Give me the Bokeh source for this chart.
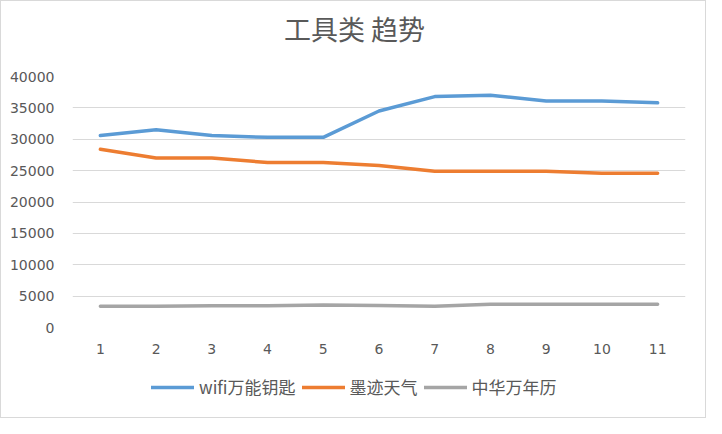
from bokeh.plotting import figure
from bokeh.layouts import column
from bokeh.models import Range1d, FixedTicker, Legend, LegendItem, Label
from bokeh.embed import file_html
from bokeh.resources import INLINE

# ---- data ----
months = [1, 2, 3, 4, 5, 6, 7, 8, 9, 10, 11]
wifi = [30600, 31500, 30600, 30300, 30300, 34500, 36800, 37000, 36100, 36100, 35800]
moji = [28400, 27000, 27000, 26300, 26300, 25800, 24900, 24900, 24900, 24600, 24600]
zhonghua = [3400, 3400, 3450, 3450, 3600, 3500, 3400, 3700, 3700, 3700, 3700]
series_names = ["wifi万能钥匙", "墨迹天气", "中华万年历"]
y_ticks = [0, 5000, 10000, 15000, 20000, 25000, 30000, 35000, 40000]
title_text = "工具类 趋势"

colors = ["#5B9BD5", "#ED7D31", "#A5A5A5"]
text_color = "#595959"
grid_color = "#D9D9D9"
series = [wifi, moji, zhonghua]

W = 704

def strip(h):
    f = figure(width=W, height=h, output_backend="svg", toolbar_location=None,
               x_range=Range1d(0, 1), y_range=Range1d(0, 1),
               x_axis_location=None, y_axis_location=None,
               min_border_left=0, min_border_right=0, min_border_top=0, min_border_bottom=0)
    f.outline_line_color = None
    f.xgrid.grid_line_color = None
    f.ygrid.grid_line_color = None
    return f

# title strip
tf = strip(65)
tf.add_layout(Label(x=0.46, y=0.58, text=title_text, text_align="center", text_baseline="middle",
                    text_font="Noto Sans CJK SC", text_font_size="27px", text_color=text_color))

# main chart
p = figure(width=W, height=297, output_backend="svg", toolbar_location=None,
           x_range=Range1d(0.5, 11.5), y_range=Range1d(0, 40000),
           min_border_left=71, min_border_right=20, min_border_top=10, min_border_bottom=36)
p.outline_line_color = None
p.xgrid.grid_line_color = None
p.ygrid.grid_line_color = grid_color
p.ygrid.grid_line_width = 1

for ax in (p.xaxis[0], p.yaxis[0]):
    ax.axis_line_color = None
    ax.major_tick_line_color = None
    ax.minor_tick_line_color = None
    ax.major_label_text_font = "DejaVu Sans"
    ax.major_label_text_font_size = "14px"
    ax.major_label_text_color = text_color

p.xaxis[0].ticker = FixedTicker(ticks=months)
p.xaxis[0].major_label_standoff = 10
p.yaxis[0].ticker = FixedTicker(ticks=y_ticks)
p.yaxis[0].major_label_standoff = 12

for vals, c in zip(series, colors):
    p.line(months, vals, line_color=c, line_width=3.5, line_cap="round", line_join="round")

# legend strip (its lines fall outside its visible range; only the legend shows)
lf = strip(54)
lf.x_range = Range1d(100, 101)
lf.y_range = Range1d(100, 101)
lrs = []
for vals, c in zip(series, colors):
    lrs.append(lf.line(months, vals, line_color=c, line_width=3.5, line_cap="round"))

legend = Legend(items=[LegendItem(label=n, renderers=[r]) for n, r in zip(series_names, lrs)],
                orientation="horizontal", location=(79, 18),
                glyph_width=43, glyph_height=20, label_height=20, label_standoff=5,
                spacing=6, padding=0, margin=0,
                border_line_color=None, background_fill_alpha=0,
                label_text_font="Noto Sans CJK SC", label_text_font_size="17px",
                label_text_color=text_color)
lf.add_layout(legend, "center")

layout = column(tf, p, lf, spacing=0)
layout.styles = {"border": "1px solid #D9D9D9"}

open("out.html", "w").write(file_html(layout, INLINE))
